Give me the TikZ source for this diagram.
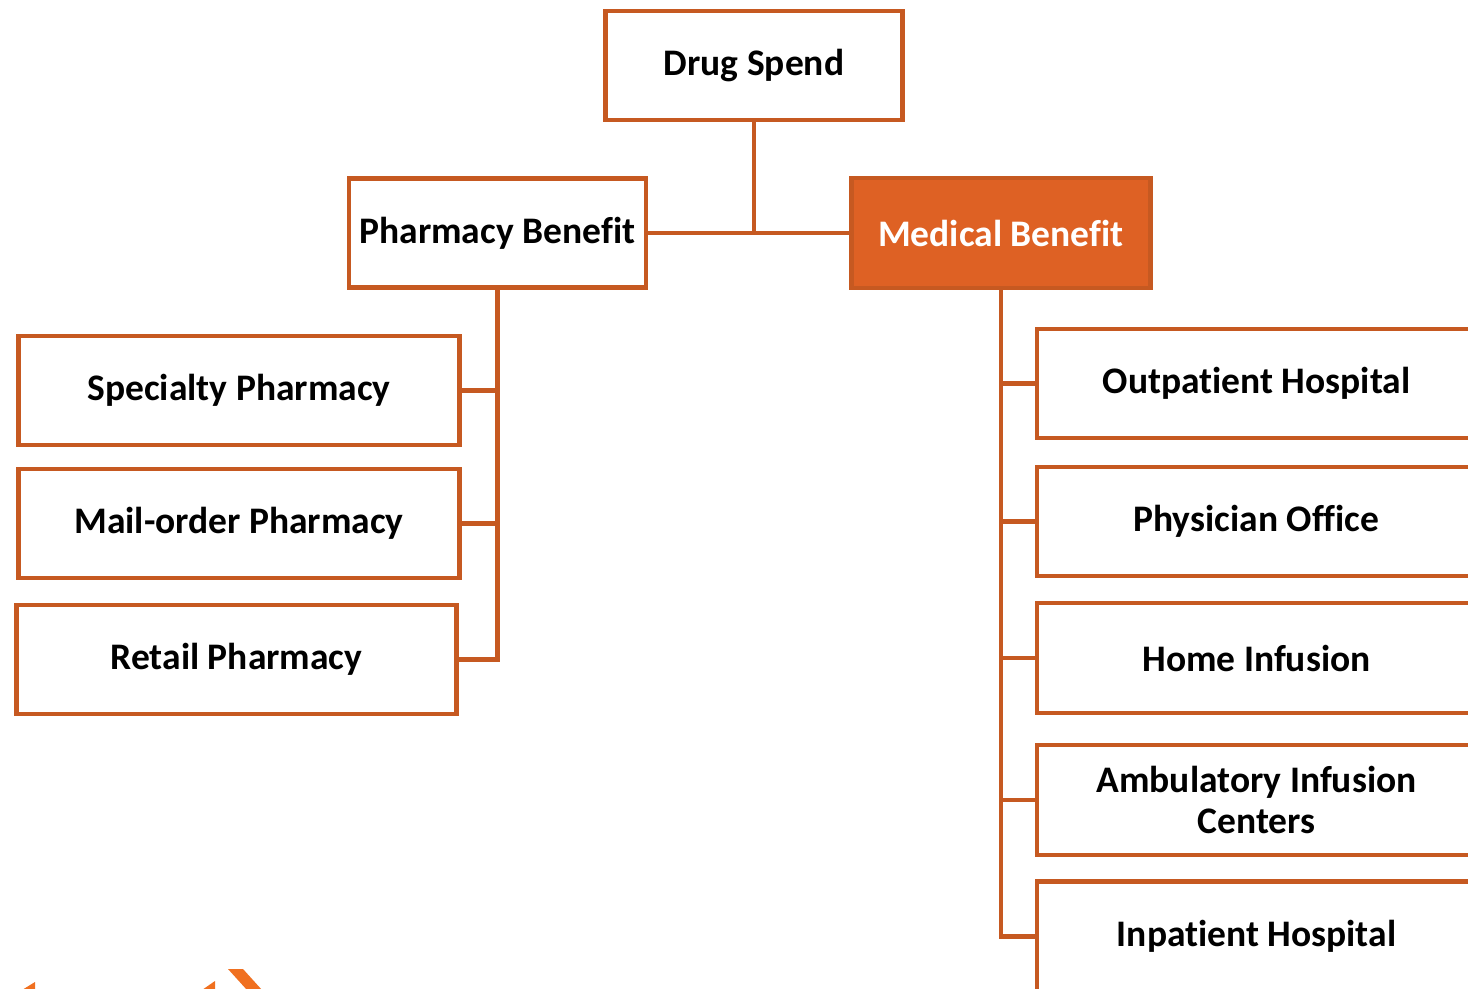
\documentclass[tikz,border=0pt]{standalone}
\usepackage{fontspec}
\setmainfont{Carlito}[Ligatures={NoCommon,NoRare}]
\definecolor{edgeor}{RGB}{198,89,33}
\definecolor{fillor}{RGB}{222,97,36}
\definecolor{logoor}{RGB}{240,112,32}
% keep f-i and t-i as separate letters
\newcommand{\nolig}{\kern0pt{}}
\begin{document}
\begin{tikzpicture}[x=1bp,y=-1bp,
  box/.style={draw=edgeor,line width=4.8bp,fill=white,inner sep=0pt,
    font=\fontsize{37.5bp}{41bp}\selectfont\bfseries,align=center,text=black},
  hotbox/.style={box,fill=fillor,text=white},
  link/.style={draw=edgeor,line width=4.5bp,line cap=rect}]
\clip (0,0) rectangle (1468,988);
\fill[white] (0,0) rectangle (1468,988);

% top level
\node[box,minimum width=297bp,minimum height=109bp] (drug) at (754,65.5) {Drug Spend};
\node[box,minimum width=297bp,minimum height=109bp] (pharm) at (497.5,233) {Pharmacy Bene\nolig f\nolig it};
\node[hotbox,minimum width=299bp,minimum height=110bp] (med) at (1001,233) {Medical Bene\nolig f\nolig it};

% pharmacy channels
\node[box,minimum width=441bp,minimum height=109bp] (spec) at (239,390.5) {Specialty Pharmacy};
\node[box,minimum width=441bp,minimum height=109bp] (mail) at (239,523.5) {Mail-order Pharmacy};
\node[box,minimum width=440bp,minimum height=109bp] (retail) at (236.5,659.5) {Retail Pharmacy};

% medical sites of care
\node[box,minimum width=439bp,minimum height=109bp] (outp) at (1256.5,383.5) {Outpat\nolig ient Hospital};
\node[box,minimum width=439bp,minimum height=109bp] (phys) at (1256.5,521.5) {Physician Of\nolig f\nolig ice};
\node[box,minimum width=439bp,minimum height=110bp] (home) at (1256.5,658) {Home Infusion};
\node[box,minimum width=439bp,minimum height=110bp] (amb) at (1256.5,800) {Ambulatory Infusion\\Centers};
\node[box,minimum width=439bp,minimum height=110bp] (inp) at (1256.5,936.5) {Inpat\nolig ient Hospital};

% connectors
\draw[link] (drug.south) -- (drug.south |- med.west);
\draw[link] (pharm.east) -- (med.west);
\draw[link] (pharm.south) -- (pharm.south |- retail.east) -- (retail.east);
\draw[link] (spec.east) -- (spec.east -| pharm.south);
\draw[link] (mail.east) -- (mail.east -| pharm.south);
\draw[link] (med.south) -- (med.south |- inp.west) -- (inp.west);
\draw[link] (outp.west) -- (outp.west -| med.south);
\draw[link] (phys.west) -- (phys.west -| med.south);
\draw[link] (home.west) -- (home.west -| med.south);
\draw[link] (amb.west) -- (amb.west -| med.south);

% logo fragments along the bottom edge
\fill[logoor] (35,982) -- (35,990) -- (22,990) -- cycle;
\fill[logoor] (215,981) -- (215,990) -- (202,990) -- cycle;
\fill[logoor] (228,969) -- (243,969) -- (262,990) -- (247,990) -- cycle;
\end{tikzpicture}
\end{document}
